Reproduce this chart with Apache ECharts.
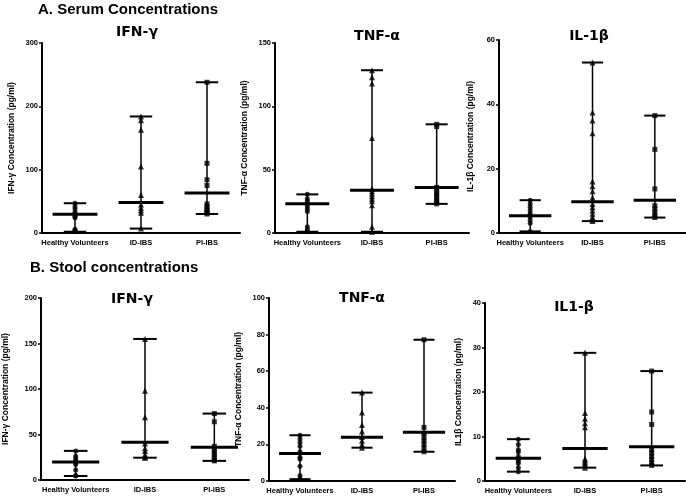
<!DOCTYPE html>
<html><head><meta charset="utf-8">
<script src="https://cdn.jsdelivr.net/npm/echarts@6/dist/echarts.min.js"></script>
<style>html,body{margin:0;padding:0;background:#fff}#c{width:686px;height:500px}</style>
</head><body><div id="c"></div>
<script>
const categories = ['Healthy Volunteers', 'ID-IBS', 'PI-IBS'];

// A. Serum
const serumIfnHV = [47, 42, 38, 33, 30, 28, 26, 24, 6, 4, 2];
const serumIfnID = [184, 178, 163, 105, 60, 45, 40, 36, 32, 7];
const serumIfnPI = [238, 110, 84, 75, 46, 42, 38, 35, 32, 30];
const serumIfnStats = [[2, 29.5, 47], [7, 48, 184], [30, 63, 238]]; // min, median, max

const serumTnfHV = [30.5, 27, 25, 23, 21, 19, 17, 5, 3, 1];
const serumTnfID = [128.5, 123, 118, 75, 35, 33, 31, 29, 27, 25, 22, 5, 1];
const serumTnfPI = [85.8, 84, 36, 34, 32, 30, 28, 26, 24, 23];
const serumTnfStats = [[1, 23, 30.5], [1, 33.7, 128.5], [23, 36, 85.8]];

const serumIlHV = [10.2, 9, 8, 7, 6, 5.5, 5, 4, 3, 0.5];
const serumIlID = [53, 37.5, 35, 31, 16, 14.5, 13, 11, 9, 8, 7, 6, 5, 4.2, 3.7];
const serumIlPI = [36.5, 26, 13.7, 8.5, 7.5, 6.5, 5.5, 4.8];
const serumIlStats = [[0.5, 5.4, 10.2], [3.7, 9.7, 53], [4.8, 10.2, 36.5]];

// B. Stool
const stoolIfnHV = [32, 26, 23, 21, 19, 17, 11, 5, 4.4];
const stoolIfnID = [155, 98, 69, 40, 35, 32, 28, 25, 24.5];
const stoolIfnPI = [73, 64, 37, 34, 31, 28, 25, 22, 21];
const stoolIfnStats = [[4.4, 19.8, 32], [24.5, 41.4, 155], [21, 36, 73]];

const stoolTnfHV = [25, 23, 21, 19, 16, 13, 12, 8, 3, 1.2, 1];
const stoolTnfID = [48.3, 37.5, 30.6, 27, 24, 22, 20, 18.2];
const stoolTnfPI = [77.2, 29.3, 26, 24, 22, 20, 18, 16];
const stoolTnfStats = [[1, 15, 25], [18.2, 23.9, 48.3], [16, 26.6, 77.2]];

const stoolIlHV = [9.4, 8.2, 7, 6.5, 5.5, 5, 4.5, 4, 3, 2.1];
const stoolIlID = [28.8, 15.3, 14, 13, 12.1, 5, 4.6, 4.2, 3.8, 3.4, 3];
const stoolIlPI = [24.7, 15.5, 12.7, 7, 6.3, 5.5, 4.8, 4, 3.5];
const stoolIlStats = [[2.1, 5.1, 9.4], [3, 7.3, 28.8], [3.5, 7.7, 24.7]];

// y-axis ranges (max, interval)
const yMax = [300, 150, 60, 200, 100, 40];
const yInterval = [100, 50, 20, 50, 20, 10];
const yNames = ['IFN-γ Concentration (pg/ml)', 'TNF-α Concentration (pg/ml)', 'IL-1β Concentration (pg/ml)',
                'IFN-γ Concentration (pg/ml)', 'TNF-α Concentration (pg/ml)', 'IL1β Concentration (pg/ml)'];
const panelTitles = ['IFN-γ', 'TNF-α', 'IL-1β', 'IFN-γ', 'TNF-α', 'IL1-β'];
const sectionTitles = ['A. Serum Concentrations', 'B. Stool concentrations'];

const panels = [
  [serumIfnHV, serumIfnID, serumIfnPI, serumIfnStats],
  [serumTnfHV, serumTnfID, serumTnfPI, serumTnfStats],
  [serumIlHV, serumIlID, serumIlPI, serumIlStats],
  [stoolIfnHV, stoolIfnID, stoolIfnPI, stoolIfnStats],
  [stoolTnfHV, stoolTnfID, stoolTnfPI, stoolTnfStats],
  [stoolIlHV, stoolIlID, stoolIlPI, stoolIlStats]
];

// layout
const grids = [
  {left: 42, top: 43, width: 198, height: 190},
  {left: 275, top: 43, width: 194, height: 190},
  {left: 499, top: 40, width: 188, height: 193},
  {left: 39, top: 298, width: 210, height: 182},
  {left: 269, top: 298, width: 186, height: 183},
  {left: 485, top: 303, width: 200, height: 178}
];
const nameGaps = [26, 26, 24, 31, 26, 22];
const titlePos = [[137, 32], [377, 36], [589, 36], [132, 299], [362, 298], [574, 307]];
const sectionPos = [[38, 10], [30, 268]];

const symbols = ['circle', 'triangle', 'rect'];
const FONT = '"Liberation Sans", Arial, sans-serif';

const option = {
  animation: false,
  backgroundColor: '#fff',
  grid: grids.map(g => Object.assign({containLabel: false}, g)),
  xAxis: grids.map((g, i) => ({
    type: 'category', gridIndex: i, data: categories, boundaryGap: true,
    axisLine: {lineStyle: {color: '#000', width: 2}},
    axisTick: {alignWithLabel: true, length: 3, lineStyle: {color: '#000', width: 1}},
    axisLabel: {color: '#000', fontWeight: 'bold', fontSize: 7.5, fontFamily: FONT, margin: 6, interval: 0},
    splitLine: {show: false}
  })),
  yAxis: grids.map((g, i) => ({
    type: 'value', gridIndex: i, min: 0, max: yMax[i], interval: yInterval[i],
    name: yNames[i], nameLocation: 'middle', nameGap: nameGaps[i], nameRotate: 90,
    nameTextStyle: {color: '#000', fontWeight: 'bold', fontSize: 8.5, fontFamily: FONT},
    axisLine: {show: true, lineStyle: {color: '#000', width: 2}},
    axisTick: {show: true, length: 3, lineStyle: {color: '#000', width: 1.5}},
    axisLabel: {color: '#000', fontWeight: 'bold', fontSize: 7.5, fontFamily: FONT, margin: 4},
    splitLine: {show: false}
  })),
  series: [],
  graphic: []
};

panels.forEach((p, i) => {
  // whiskers, caps, median
  option.series.push({
    type: 'custom', xAxisIndex: i, yAxisIndex: i,
    data: p[3].map((s, k) => [k, s[0], s[1], s[2]]),
    encode: {x: 0, y: [1, 2, 3]},
    renderItem: function (params, api) {
      const x = api.value(0);
      const lo = api.coord([x, api.value(1)]);
      const med = api.coord([x, api.value(2)]);
      const hi = api.coord([x, api.value(3)]);
      const bw = api.size([1, 0])[0];
      const cap = bw * 0.17, mh = bw * 0.34;
      const st = w => ({stroke: '#000', lineWidth: w});
      return {type: 'group', children: [
        {type: 'line', shape: {x1: lo[0], y1: lo[1], x2: hi[0], y2: hi[1]}, style: st(1.5)},
        {type: 'line', shape: {x1: lo[0] - cap, y1: lo[1], x2: lo[0] + cap, y2: lo[1]}, style: st(2)},
        {type: 'line', shape: {x1: hi[0] - cap, y1: hi[1], x2: hi[0] + cap, y2: hi[1]}, style: st(2)},
        {type: 'line', shape: {x1: med[0] - mh, y1: med[1], x2: med[0] + mh, y2: med[1]}, style: st(3)}
      ]};
    },
    z: 2
  });
  [0, 1, 2].forEach(k => {
    option.series.push({
      type: 'scatter', xAxisIndex: i, yAxisIndex: i,
      symbol: symbols[k], symbolSize: k === 1 ? 6 : 5,
      itemStyle: {color: '#000'},
      data: p[k].map(v => [k, v]),
      z: 3
    });
  });
  option.graphic.push({
    type: 'text', x: titlePos[i][0], y: titlePos[i][1],
    style: {text: panelTitles[i], font: 'bold 14px "DejaVu Sans", sans-serif', fill: '#000',
            textAlign: 'center', textVerticalAlign: 'middle'}
  });
});
sectionTitles.forEach((t, i) => {
  option.graphic.push({
    type: 'text', x: sectionPos[i][0], y: sectionPos[i][1],
    style: {text: t, font: 'bold 15px ' + FONT, fill: '#000',
            textAlign: 'left', textVerticalAlign: 'middle'}
  });
});

const chart = echarts.init(document.getElementById('c'), null, {renderer: 'canvas'});
chart.setOption(option);
</script></body></html>
